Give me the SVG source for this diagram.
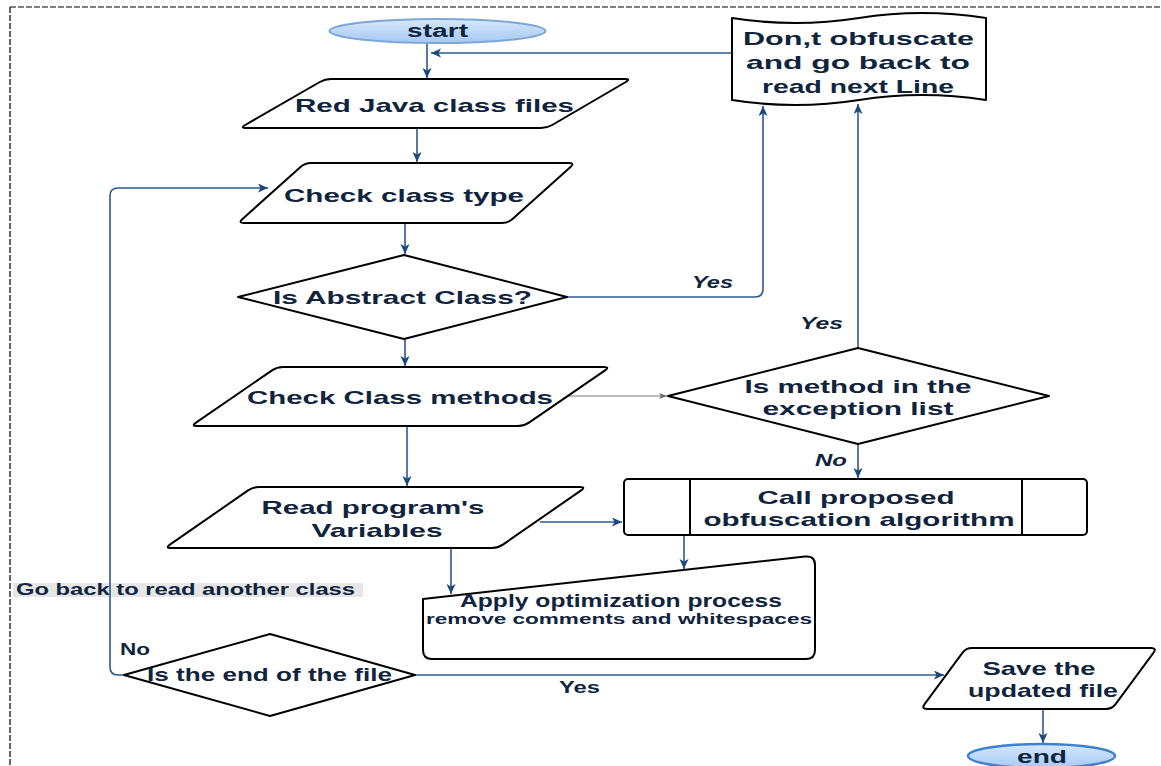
<svg xmlns="http://www.w3.org/2000/svg" width="1161" height="766" viewBox="0 0 1161 766">
  <style>
    .node { fill: #ffffff; stroke: #000000; stroke-width: 2; stroke-linejoin: round; }
    .t { font-family: "Liberation Sans", Arial, sans-serif; font-weight: bold; fill: #10243e; text-anchor: middle; }
    .s19 { font-size: 19px; }
    .s18 { font-size: 18px; }
    .s17 { font-size: 17px; }
    .s16 { font-size: 16px; }
    .s14 { font-size: 14px; }
    .it { font-style: italic; }
    .edge { fill: none; stroke: #2b5b8e; stroke-width: 1.6; }
    .edge-gray { fill: none; stroke: #7a7a7a; stroke-width: 1; }
  </style>
  <defs>
    <linearGradient id="term" x1="0" y1="0" x2="0" y2="1">
      <stop offset="0" stop-color="#d6e7fb"/>
      <stop offset="1" stop-color="#a5c9f3"/>
    </linearGradient>
    <marker id="arr" markerUnits="userSpaceOnUse" markerWidth="12" markerHeight="10" refX="10" refY="4.5" orient="auto">
      <path d="M0,0 L10,4.5 L0,9 L2.5,4.5 Z" fill="#1d4a7a"/>
    </marker>
    <marker id="arrg" markerUnits="userSpaceOnUse" markerWidth="10" markerHeight="8" refX="8" refY="3" orient="auto">
      <path d="M0,0 L8,3 L0,6 L2,3 Z" fill="#666666"/>
    </marker>
  </defs>

  <!-- dashed frame -->
  <g id="frame" fill="none" stroke="#000000" stroke-width="1.2" stroke-dasharray="6 2">
    <path d="M10,7 L1161,7"/>
    <path d="M10,7 L10,766"/>
  </g>

  <!-- edge label background (Go back) -->
  <rect x="13" y="583" width="350" height="14" fill="#e6e6e6"/>

  <g id="connectors">
    <path class="edge" d="M427,43 L427,78" marker-end="url(#arr)"/>
    <path class="edge" d="M732,53 L431,53" marker-end="url(#arr)"/>
    <path class="edge" d="M417,128 L417,162" marker-end="url(#arr)"/>
    <path class="edge" d="M405,223 L405,254" marker-end="url(#arr)"/>
    <path class="edge" d="M567,297 L755,297 Q763,297 763,289 L763,106" marker-end="url(#arr)"/>
    <path class="edge" d="M405,339 L405,366" marker-end="url(#arr)"/>
    <path class="edge-gray" d="M560,396 L667,396" marker-end="url(#arrg)"/>
    <path class="edge" d="M858,348 L858,104" marker-end="url(#arr)"/>
    <path class="edge" d="M858,444 L858,478" marker-end="url(#arr)"/>
    <path class="edge" d="M407,426 L407,486" marker-end="url(#arr)"/>
    <path class="edge" d="M540,522 L622,522" marker-end="url(#arr)"/>
    <path class="edge" d="M451,548 L451,594" marker-end="url(#arr)"/>
    <path class="edge" d="M684,535 L684,569" marker-end="url(#arr)"/>
    <path class="edge" d="M415,675 L944,675" marker-end="url(#arr)"/>
    <path class="edge" d="M124,675 L118,675 Q110,675 110,667 L110,196 Q110,188 118,188 L268,188" marker-end="url(#arr)"/>
    <path class="edge" d="M1043,709 L1043,743" marker-end="url(#arr)"/>
  </g>

  <g id="edge-labels">
    <text class="t s17 it" x="712.5" y="288" textLength="41" lengthAdjust="spacingAndGlyphs">Yes</text>
    <text class="t s17 it" x="821.5" y="329" textLength="43" lengthAdjust="spacingAndGlyphs">Yes</text>
    <text class="t s17 it" x="831" y="466" textLength="32" lengthAdjust="spacingAndGlyphs">No</text>
    <text class="t s16" x="185.5" y="595" textLength="339" lengthAdjust="spacingAndGlyphs">Go back to read another class</text>
    <text class="t s16" x="135" y="654.6" textLength="30" lengthAdjust="spacingAndGlyphs">No</text>
    <text class="t s16" x="579.5" y="692.6" textLength="41" lengthAdjust="spacingAndGlyphs">Yes</text>
  </g>

  <g id="start">
    <ellipse cx="437.5" cy="31" rx="108" ry="12" fill="url(#term)" stroke="#7ea6d6" stroke-width="2"/>
    <text class="t s18" x="437.5" y="37.3" textLength="61" lengthAdjust="spacingAndGlyphs">start</text>
  </g>

  <g id="read-java">
    <path class="node" d="M331,79 L625,79 Q631,79 625.8,82 L552.2,125 Q547,128 541,128 L246,128 Q240,128 245.2,125 L319.8,82 Q325,79 331,79 Z"/>
    <text class="t s19" x="434.5" y="111.7" textLength="279" lengthAdjust="spacingAndGlyphs">Red Java class files</text>
  </g>

  <g id="dont-obfuscate">
    <path class="node" d="M732,18 Q795,28 859,18 Q922,8 986,18 L986,100 Q922,90 859,100 Q795,110 732,100 Z"/>
    <text class="t s19" x="858.5" y="44.7" textLength="231" lengthAdjust="spacingAndGlyphs">Don,t obfuscate</text>
    <text class="t s19" x="858" y="68.7" textLength="224" lengthAdjust="spacingAndGlyphs">and go back to</text>
    <text class="t s19" x="858" y="92.7" textLength="192" lengthAdjust="spacingAndGlyphs">read next Line</text>
  </g>

  <g id="check-type">
    <path class="node" d="M311,163 L569,163 Q575,163 570.5,167 L512.5,219 Q508,223 502,223 L244,223 Q238,223 242.5,219 L300.5,167 Q305,163 311,163 Z"/>
    <text class="t s19" x="404" y="201.7" textLength="240" lengthAdjust="spacingAndGlyphs">Check class type</text>
  </g>

  <g id="is-abstract">
    <polygon class="node" points="404,255 567,297 404,339 238,297"/>
    <text class="t s19" x="402.5" y="303.7" textLength="259" lengthAdjust="spacingAndGlyphs">Is Abstract Class?</text>
  </g>

  <g id="check-methods">
    <path class="node" d="M283,367 L604,367 Q610,367 605,370.4 L529,422.6 Q524,426 518,426 L197,426 Q191,426 196,422.6 L272,370.4 Q277,367 283,367 Z"/>
    <text class="t s19" x="400" y="403.7" textLength="306" lengthAdjust="spacingAndGlyphs">Check Class methods</text>
  </g>

  <g id="is-exception">
    <polygon class="node" points="858,348 1049,396 858,444 668,396"/>
    <text class="t s19" x="858" y="392.7" textLength="227" lengthAdjust="spacingAndGlyphs">Is method in the</text>
    <text class="t s19" x="858" y="414.7" textLength="191" lengthAdjust="spacingAndGlyphs">exception list</text>
  </g>

  <g id="call-algorithm">
    <rect class="node" x="624" y="479" width="463" height="56" rx="4"/>
    <line x1="690" y1="479" x2="690" y2="535" stroke="#000000" stroke-width="2"/>
    <line x1="1022" y1="479" x2="1022" y2="535" stroke="#000000" stroke-width="2"/>
    <text class="t s19" x="856" y="503.7" textLength="197" lengthAdjust="spacingAndGlyphs">Call proposed</text>
    <text class="t s19" x="859" y="525.7" textLength="311" lengthAdjust="spacingAndGlyphs">obfuscation algorithm</text>
  </g>

  <g id="read-variables">
    <path class="node" d="M259,487 L580,487 Q586,487 581.1,490.4 L502.9,544.6 Q498,548 492,548 L171,548 Q165,548 169.9,544.6 L248.1,490.4 Q253,487 259,487 Z"/>
    <text class="t s19" x="373" y="513.7" textLength="223" lengthAdjust="spacingAndGlyphs">Read program's</text>
    <text class="t s19" x="377" y="536.7" textLength="131" lengthAdjust="spacingAndGlyphs">Variables</text>
  </g>

  <g id="apply-optimization">
    <path class="node" d="M423,599 L805,556.5 Q815,555.5 815,565 L815,650 Q815,659 806,659 L432,659 Q423,659 423,650 Z"/>
    <text class="t s18" x="621" y="607.3" textLength="322" lengthAdjust="spacingAndGlyphs">Apply optimization process</text>
    <text class="t s14" x="619" y="623.9" textLength="386" lengthAdjust="spacingAndGlyphs">remove comments and whitespaces</text>
  </g>

  <g id="is-end-of-file">
    <polygon class="node" points="270,634 415,675 270,716 124,675"/>
    <text class="t s19" x="269.5" y="681" textLength="245" lengthAdjust="spacingAndGlyphs">Is the end of the file</text>
  </g>

  <g id="save-file">
    <path class="node" d="M972,648 L1151,648 Q1157,648 1153.4,652.8 L1115.6,704.2 Q1112,709 1106,709 L927,709 Q921,709 924.6,704.2 L962.4,652.8 Q966,648 972,648 Z"/>
    <text class="t s19" x="1039" y="674.7" textLength="113" lengthAdjust="spacingAndGlyphs">Save the</text>
    <text class="t s19" x="1043" y="696.7" textLength="150" lengthAdjust="spacingAndGlyphs">updated file</text>
  </g>

  <g id="end">
    <ellipse cx="1041.5" cy="756" rx="73.5" ry="12" fill="url(#term)" stroke="#3f7fcf" stroke-width="2.5"/>
    <text class="t s18" x="1042" y="763" textLength="50" lengthAdjust="spacingAndGlyphs">end</text>
  </g>
</svg>
